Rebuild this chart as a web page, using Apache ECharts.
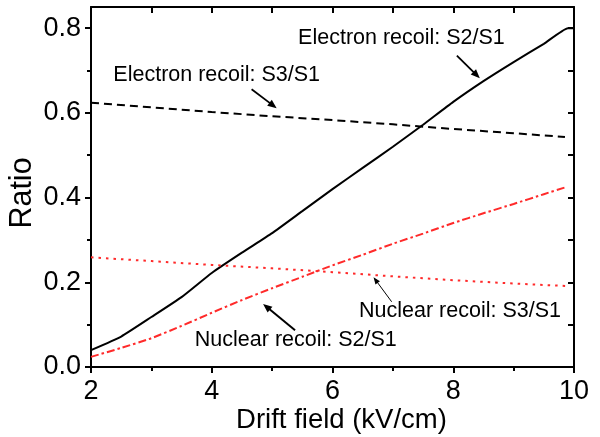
<!DOCTYPE html>
<html>
<head>
<meta charset="utf-8">
<script src="https://cdn.jsdelivr.net/npm/echarts@6/dist/echarts.min.js"></script>
<style>
  html, body { margin: 0; padding: 0; background: #fff; }
  #chart { width: 600px; height: 437px; }
</style>
</head>
<body>
<div id="chart"></div>
<script>
// Drift field values (kV/cm) and ratios for each curve
const erS2S1X = [2, 2.5, 3, 3.5, 4, 4.5, 5, 5.5, 6, 6.5, 7, 7.5, 8, 8.5, 9, 9.5, 9.9, 10];
const erS2S1Y = [0.040, 0.072, 0.118, 0.165, 0.222, 0.270, 0.316, 0.368, 0.420, 0.470, 0.520, 0.572, 0.626, 0.675, 0.720, 0.763, 0.800, 0.800];

const erS3S1X = [2, 3, 4, 5, 6, 7, 8, 9, 9.85];
const erS3S1Y = [0.624, 0.613, 0.602, 0.592, 0.583, 0.573, 0.562, 0.552, 0.543];

const nrS2S1X = [2, 2.5, 3, 3.5, 4, 4.5, 5, 5.5, 6, 6.5, 7, 7.5, 8, 8.5, 9, 9.5, 9.85];
const nrS2S1Y = [0.024, 0.045, 0.068, 0.097, 0.128, 0.158, 0.186, 0.213, 0.240, 0.265, 0.291, 0.315, 0.340, 0.363, 0.385, 0.408, 0.424];

const nrS3S1X = [2, 3, 4, 5, 6, 7, 8, 9, 9.9];
const nrS3S1Y = [0.259, 0.250, 0.241, 0.233, 0.224, 0.214, 0.205, 0.197, 0.191];

// Axis ticks
const yMajorTicks = [0, 0.2, 0.4, 0.6, 0.8];
const yMinorTicks = [0.1, 0.3, 0.5, 0.7];
const yAllTicks = [0, 0.1, 0.2, 0.3, 0.4, 0.5, 0.6, 0.7, 0.8];

// Curve annotations: text anchor (left, middle) and arrow (from -> to) in data units
const noteTexts = ['Electron recoil: S2/S1', 'Electron recoil: S3/S1', 'Nuclear recoil: S3/S1', 'Nuclear recoil: S2/S1'];
const noteAnchors = [[5.43, 0.777], [2.37, 0.690], [6.44, 0.131], [3.72, 0.064]];
const arrowFrom = [[8.06, 0.735], [4.66, 0.656], [6.98, 0.154], [5.38, 0.087]];
const arrowTo = [[8.44, 0.682], [5.075, 0.611], [6.68, 0.212], [4.85, 0.149]];
const arrowWidths = [1.8, 1.8, 1, 2];

const FONT = "'Liberation Sans', Arial, sans-serif";
const RED = '#ff2a2a';

const zip = (xs, ys) => xs.map((x, i) => [x, ys[i]]);

const chart = echarts.init(document.getElementById('chart'), null, { renderer: 'canvas' });

const axisLine = { show: true, onZero: false, lineStyle: { color: '#000', width: 2 } };

// Arrow: shaft plus filled triangular head, placed through the axis scales
function renderArrow(params, api) {
  const p0 = api.coord([api.value(0), api.value(1)]);
  const p1 = api.coord([api.value(2), api.value(3)]);
  const w = api.value(4);
  const dx = p1[0] - p0[0], dy = p1[1] - p0[1];
  const len = Math.hypot(dx, dy);
  const ux = dx / len, uy = dy / len;
  const headL = w < 1.5 ? 7 : 9;
  const headW = w < 1.5 ? 2.8 : 3.8;
  const bx = p1[0] - ux * headL, by = p1[1] - uy * headL;
  return {
    type: 'group',
    children: [
      { type: 'line', shape: { x1: p0[0], y1: p0[1], x2: bx + ux * 1, y2: by + uy * 1 },
        style: { stroke: '#000', lineWidth: w } },
      { type: 'polygon',
        shape: { points: [[p1[0], p1[1]], [bx - uy * headW, by + ux * headW], [bx + uy * headW, by - ux * headW]] },
        style: { fill: '#000' } }
    ]
  };
}

function renderNote(params, api) {
  const p = api.coord([api.value(0), api.value(1)]);
  return {
    type: 'text', x: p[0], y: p[1],
    style: {
      text: noteTexts[params.dataIndex], fill: '#000',
      font: '21.5px ' + FONT, align: 'left', verticalAlign: 'middle'
    }
  };
}

const option = {
  animation: false,
  backgroundColor: '#fff',
  grid: { left: 91, right: 26, top: 7, bottom: 70, containLabel: false, outerBoundsMode: 'none' },
  xAxis: [
    {
      type: 'value', position: 'bottom', min: 2, max: 10, interval: 2,
      axisLine: axisLine,
      axisTick: { show: true, inside: false, length: 6, lineStyle: { color: '#000', width: 2 } },
      minorTick: { show: true, splitNumber: 2, length: 4, lineStyle: { color: '#000', width: 2 } },
      splitLine: { show: false },
      axisLabel: { fontSize: 27, fontFamily: FONT, color: '#000', margin: 11 },
      name: 'Drift field (kV/cm)', nameLocation: 'middle', nameGap: 39, nameMoveOverlap: false,
      nameTextStyle: { fontSize: 27.5, fontFamily: FONT, color: '#000', padding: [0, 0, 0, 18] }
    },
    {
      type: 'value', position: 'top', min: 2, max: 10, interval: 1,
      axisLine: axisLine,
      axisTick: { show: true, inside: true, length: 6, lineStyle: { color: '#000', width: 2 } },
      splitLine: { show: false },
      axisLabel: { show: false }
    }
  ],
  yAxis: [
    {
      type: 'value', position: 'left', min: 0, max: 0.85,
      axisLine: axisLine,
      axisTick: { show: true, inside: false, length: 6, customValues: yMajorTicks, lineStyle: { color: '#000', width: 2 } },
      splitLine: { show: false },
      axisLabel: {
        fontSize: 27, fontFamily: FONT, color: '#000', margin: 10,
        customValues: yMajorTicks,
        formatter: v => v.toFixed(1)
      },
      name: 'Ratio', nameLocation: 'middle', nameGap: 53, nameRotate: 90, nameMoveOverlap: false,
      nameTextStyle: { fontSize: 30.5, fontFamily: FONT, color: '#000', padding: [0, 12, 0, 0] }
    },
    {
      type: 'value', position: 'left', min: 0, max: 0.85,
      axisLine: { show: false },
      axisTick: { show: true, inside: false, length: 4, customValues: yMinorTicks, lineStyle: { color: '#000', width: 2 } },
      splitLine: { show: false },
      axisLabel: { show: false }
    },
    {
      type: 'value', position: 'right', min: 0, max: 0.85,
      axisLine: axisLine,
      axisTick: { show: true, inside: true, length: 6, customValues: yAllTicks, lineStyle: { color: '#000', width: 2 } },
      splitLine: { show: false },
      axisLabel: { show: false }
    }
  ],
  series: [
    {
      name: 'Electron recoil: S2/S1', type: 'line', xAxisIndex: 0, yAxisIndex: 0,
      data: zip(erS2S1X, erS2S1Y), showSymbol: false, symbol: 'none', smooth: 0.15,
      lineStyle: { color: '#000', width: 2 }
    },
    {
      name: 'Electron recoil: S3/S1', type: 'line', xAxisIndex: 0, yAxisIndex: 0,
      data: zip(erS3S1X, erS3S1Y), showSymbol: false, symbol: 'none',
      lineStyle: { color: '#000', width: 2, type: [8, 5] }
    },
    {
      name: 'Nuclear recoil: S2/S1', type: 'line', xAxisIndex: 0, yAxisIndex: 0,
      data: zip(nrS2S1X, nrS2S1Y), showSymbol: false, symbol: 'none', smooth: 0.2,
      lineStyle: { color: RED, width: 2, type: [8, 3, 2.5, 3] }
    },
    {
      name: 'Nuclear recoil: S3/S1', type: 'line', xAxisIndex: 0, yAxisIndex: 0,
      data: zip(nrS3S1X, nrS3S1Y), showSymbol: false, symbol: 'none',
      lineStyle: { color: RED, width: 2, type: [2.5, 5] }
    },
    {
      name: 'arrows', type: 'custom', xAxisIndex: 0, yAxisIndex: 0, silent: true,
      renderItem: renderArrow,
      data: arrowFrom.map((f, i) => [f[0], f[1], arrowTo[i][0], arrowTo[i][1], arrowWidths[i]]),
      encode: { x: [0, 2], y: [1, 3] }
    },
    {
      name: 'notes', type: 'custom', xAxisIndex: 0, yAxisIndex: 0, silent: true,
      renderItem: renderNote,
      data: noteAnchors,
      encode: { x: 0, y: 1 }
    }
  ]
};

chart.setOption(option);
</script>
</body>
</html>
